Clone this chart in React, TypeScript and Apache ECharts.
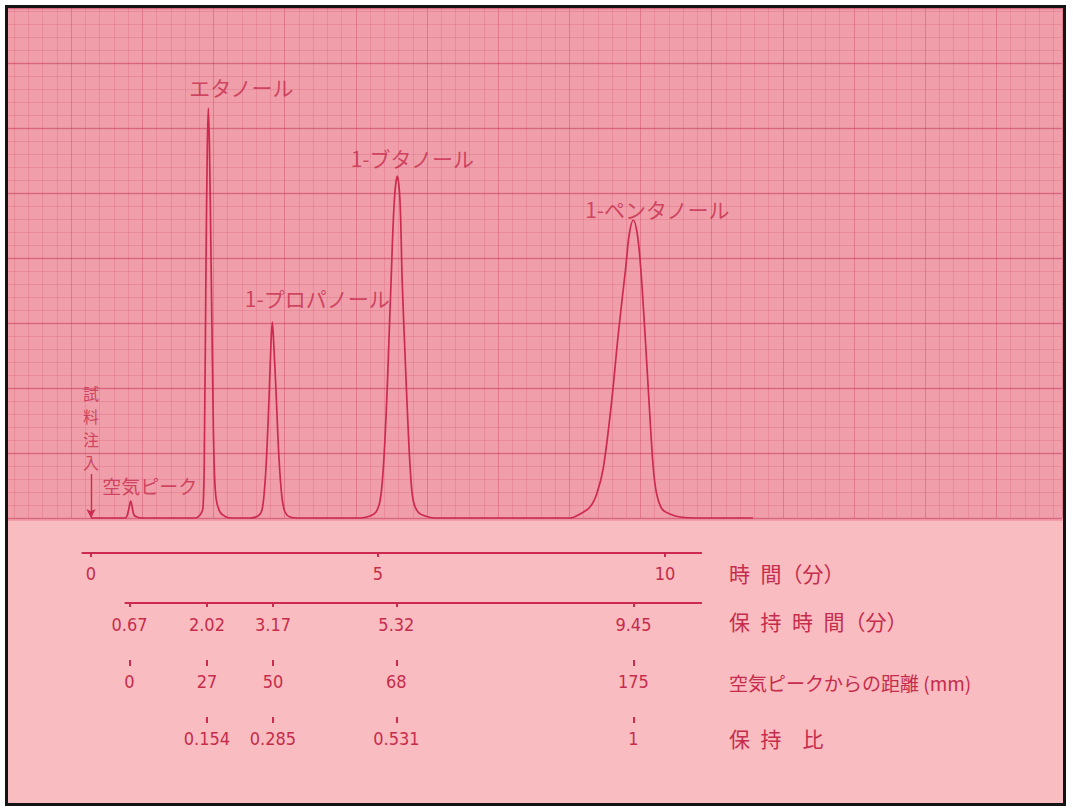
import React, { useEffect, useRef } from "react";
import * as echarts from "echarts";

// ---- chromatogram trace: time (min) / signal (chart units above baseline)
const airT = [0, 0.592, 0.627, 0.662, 0.692, 0.72, 0.749, 0.801, 0.889];
const airS = [0, 0, 2, 10, 17, 10, 3, 1, 0];
const ethanolT = [1.812, 1.899, 1.951, 1.977, 2.003, 2.026, 2.044, 2.064, 2.091, 2.117, 2.143, 2.178, 2.247, 2.352, 2.456];
const ethanolS = [0, 3, 10, 80, 250, 370, 410, 370, 260, 150, 60, 20, 6, 1, 0];
const propanolT = [2.77, 2.909, 2.979, 3.031, 3.066, 3.106, 3.136, 3.159, 3.183, 3.223, 3.275, 3.328, 3.38, 3.467, 3.606];
const propanolS = [0, 2, 8, 35, 70, 127, 175, 196, 175, 127, 60, 20, 6, 1, 0];
const butanolT = [4.686, 4.861, 4.965, 5.035, 5.087, 5.139, 5.183, 5.226, 5.284, 5.336, 5.383, 5.423, 5.47, 5.517, 5.566, 5.615, 5.697, 5.819, 5.993];
const butanolS = [0, 2, 6, 17, 45, 100, 165, 234, 317, 342, 317, 234, 165, 100, 45, 17, 6, 2, 0];
const pentanolT = [8.345, 8.519, 8.693, 8.81, 8.925, 9.071, 9.186, 9.315, 9.378, 9.448, 9.517, 9.577, 9.652, 9.721, 9.796, 9.855, 9.948, 10.087, 10.261, 10.61, 11.533];
const pentanolS = [0, 4, 11, 24, 50, 117, 184, 250, 284, 298, 284, 250, 184, 117, 50, 24, 9, 4, 1, 0, 0];

// ---- peak annotations
const peakNames = ["空気ピーク", "エタノール", "1-プロパノール", "1-ブタノール", "1-ペンタノール"];
const peakTimes = [0.692, 2.044, 3.159, 5.336, 9.448];
const peakHeights = [17, 410, 196, 342, 298];
const injectionChars = ["試", "料", "注", "入"];
const injectionTime = 0;
const injectionArrowTop = 44;

// ---- scales below the chart
const timeTicks = [0, 5, 10];
const retentionTimes = [0.67, 2.02, 3.17, 5.32, 9.45];
const distanceLabels = ["0", "27", "50", "68", "175"];
const ratioTimes = [2.02, 3.17, 5.32, 9.45];
const ratioLabels = ["0.154", "0.285", "0.531", "1"];
const rowTitles = ["時\u2002間（分）", "保\u2002持\u2002時\u2002間（分）", "空気ピークからの距離 (mm)", "保\u2002持\u2003比"];

// ---- layout / style
const X0 = 91; // px of t = 0
const PX = 57.4; // px per minute
const BASE = 518;
const TOP = 8;
const RED = "#cc2b4f";
const TXT = "#c62c4c";
const UPPER = "#f09faa";
const LOWER = "#f9bcc1";
const CJK = "'Noto Sans CJK JP', sans-serif";
const NUM = "'Liberation Sans Narrow', 'DejaVu Sans Condensed', 'Roboto Condensed', 'Liberation Sans', sans-serif";

const zip = (t: number[], s: number[]) => t.map((v, i) => [v, s[i]]);
const trace = [
  ...zip(airT, airS),
  ...zip(ethanolT, ethanolS),
  ...zip(propanolT, propanolS),
  ...zip(butanolT, butanolS),
  ...zip(pentanolT, pentanolS),
];

const rowGrid = (tMin: number, tMax: number, y: number) => ({
  left: X0 + tMin * PX,
  width: (tMax - tMin) * PX,
  top: y - 1,
  height: 1,
});

const nearestIdx = (arr: number[], v: number) => {
  let b = 0;
  arr.forEach((a, i) => {
    if (Math.abs(a - v) < Math.abs(arr[b] - v)) b = i;
  });
  return b;
};

const hidden = { show: false };
const paperAxis = (gridIndex: number, max: number, interval: number, color: string, width: number) => ({
  type: "value",
  gridIndex,
  min: 0,
  max,
  interval,
  axisLine: hidden,
  axisTick: hidden,
  axisLabel: hidden,
  splitLine: { show: true, lineStyle: { color, width } },
});

const labelOffsets: number[][] = [
  [19, -16],
  [33, -21],
  [45, -24],
  [15, -18],
  [24, -11],
];
const labelSizes = [19, 21, 21, 21, 21];

const numLabel = (margin: number) => ({ margin, color: TXT, fontSize: 18, fontFamily: NUM });

const option: any = {
  animation: false,
  backgroundColor: "#ffffff",
  grid: [
    { left: -5, top: TOP, width: 1067, height: BASE - TOP },
    { left: X0 - PX, width: 13 * PX, top: TOP, height: BASE - TOP },
    rowGrid(-0.15, 10.63, 553),
    rowGrid(0.6, 10.63, 603),
    rowGrid(-0.15, 10.63, 660),
    rowGrid(-0.15, 10.63, 717),
  ],
  xAxis: [
    paperAxis(0, 1067, 14.3, "rgba(200,60,95,0.20)", 1),
    paperAxis(0, 1067, 71.5, "rgba(200,60,95,0.22)", 1),
    { type: "value", gridIndex: 1, min: -1, max: 12, show: false },
    {
      type: "value",
      gridIndex: 2,
      min: -0.15,
      max: 10.63,
      axisLine: { lineStyle: { color: RED, width: 2 } },
      axisTick: { customValues: timeTicks, length: 4, lineStyle: { color: RED, width: 2 } },
      axisLabel: { customValues: timeTicks, ...numLabel(11), formatter: (v: number) => String(v) },
      splitLine: hidden,
    },
    {
      type: "value",
      gridIndex: 2,
      min: -0.15,
      max: 10.63,
      axisLine: hidden,
      axisTick: { inside: true, customValues: timeTicks, length: 5, lineStyle: { color: RED, width: 2 } },
      axisLabel: hidden,
      splitLine: hidden,
    },
    {
      type: "value",
      gridIndex: 3,
      min: 0.6,
      max: 10.63,
      axisLine: { lineStyle: { color: RED, width: 2 } },
      axisTick: { customValues: retentionTimes, length: 4, lineStyle: { color: RED, width: 2 } },
      axisLabel: { customValues: retentionTimes, ...numLabel(12), formatter: (v: number) => v.toFixed(2) },
      splitLine: hidden,
    },
    {
      type: "value",
      gridIndex: 3,
      min: 0.6,
      max: 10.63,
      axisLine: hidden,
      axisTick: { inside: true, customValues: retentionTimes, length: 5, lineStyle: { color: RED, width: 2 } },
      axisLabel: hidden,
      splitLine: hidden,
    },
    {
      type: "value",
      gridIndex: 4,
      min: -0.15,
      max: 10.63,
      axisLine: hidden,
      axisTick: { customValues: retentionTimes, length: 6, lineStyle: { color: RED, width: 2 } },
      axisLabel: {
        customValues: retentionTimes,
        ...numLabel(12),
        formatter: (v: number) => distanceLabels[nearestIdx(retentionTimes, v)],
      },
      splitLine: hidden,
    },
    {
      type: "value",
      gridIndex: 5,
      min: -0.15,
      max: 10.63,
      axisLine: hidden,
      axisTick: { customValues: ratioTimes, length: 6, lineStyle: { color: RED, width: 2 } },
      axisLabel: {
        customValues: ratioTimes,
        ...numLabel(12),
        formatter: (v: number) => ratioLabels[nearestIdx(ratioTimes, v)],
      },
      splitLine: hidden,
    },
  ],
  yAxis: [
    paperAxis(0, BASE - TOP, 13, "rgba(200,60,95,0.20)", 1),
    paperAxis(0, BASE - TOP, 65, "rgba(195,50,85,0.42)", 1.4),
    { type: "value", gridIndex: 1, min: 0, max: BASE - TOP, show: false },
    { type: "value", gridIndex: 2, show: false },
    { type: "value", gridIndex: 3, show: false },
    { type: "value", gridIndex: 4, show: false },
    { type: "value", gridIndex: 5, show: false },
  ],
  series: [
    {
      type: "line",
      name: "chromatogram",
      xAxisIndex: 2,
      yAxisIndex: 2,
      data: trace,
      showSymbol: false,
      smooth: 0.35,
      clip: false,
      lineStyle: { color: RED, width: 1.7 },
      z: 5,
      markLine: {
        silent: true,
        symbol: ["none", "arrow"],
        symbolSize: [7, 9],
        label: { show: false },
        lineStyle: { color: RED, width: 1.4, type: "solid" },
        data: [[{ coord: [injectionTime, injectionArrowTop] }, { coord: [injectionTime, 0] }]],
      },
    },
    {
      type: "scatter",
      name: "labels",
      xAxisIndex: 2,
      yAxisIndex: 2,
      symbolSize: 0,
      z: 6,
      data: [
        ...peakNames.map((n, i) => ({
          name: n,
          value: [peakTimes[i], peakHeights[i]],
          label: { offset: labelOffsets[i], fontSize: labelSizes[i] },
        })),
        ...injectionChars.map((c, i) => ({
          name: c,
          value: [injectionTime, 0],
          label: { offset: [0, -125 + i * 23], fontSize: 16, lineHeight: 18 },
        })),
      ],
      label: {
        show: true,
        position: "inside",
        formatter: "{b}",
        color: TXT,
        fontSize: 21,
        fontFamily: CJK,
      },
    },
  ],
  graphic: [
    { type: "rect", z: -10, shape: { x: 8, y: 8, width: 1055, height: 795 }, style: { fill: LOWER } },
    { type: "rect", z: -9, shape: { x: 8, y: 8, width: 1055, height: 513 }, style: { fill: UPPER } },
    { type: "rect", z: 100, shape: { x: 0, y: 0, width: 5, height: 810 }, style: { fill: "#ffffff" } },
    {
      type: "rect",
      z: 101,
      shape: { x: 6.5, y: 6.5, width: 1058, height: 798 },
      style: { fill: "none", stroke: "#141414", lineWidth: 3 },
    },
    ...rowTitles.map((t, i) => ({
      type: "text",
      z: 20,
      style: {
        text: t,
        x: 729,
        y: [573, 621, 682, 738][i],
        fill: TXT,
        fontSize: i === 2 ? 19 : 21,
        fontFamily: CJK,
        align: "left",
        verticalAlign: "middle",
      },
    })),
  ],
};

export default function App() {
  const ref = useRef<HTMLDivElement>(null);
  useEffect(() => {
    document.body.style.margin = "0";
    const chart = echarts.init(ref.current!, null, { renderer: "svg" });
    chart.setOption(option);
    return () => chart.dispose();
  }, []);
  return <div ref={ref} style={{ width: 1073, height: 810 }} />;
}
